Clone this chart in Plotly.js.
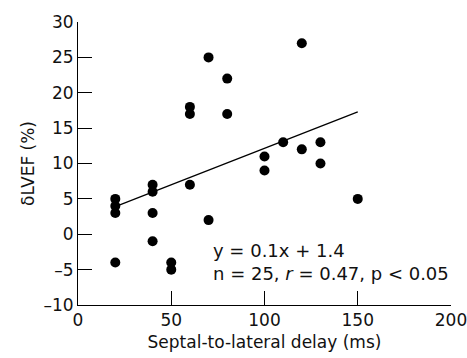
<!DOCTYPE html>
<html>
<head>
<meta charset="utf-8">
<script src="https://cdn.plot.ly/plotly-3.0.1.min.js"></script>
<style>html,body{margin:0;padding:0;background:#fff;}#chart{width:467px;height:358px;}</style>
</head>
<body>
<div id="chart"></div>
<script>
// Septal-to-lateral delay (ms)
const delayMs = [70, 80, 60, 60, 80, 120, 110, 100, 100, 120, 130, 130, 150,
                 20, 20, 20, 20, 40, 40, 40, 40, 60, 70, 50, 50];
// δLVEF (%)
const dLVEF = [25, 22, 18, 17, 17, 27, 13, 11, 9, 12, 13, 10, 5,
               5, 4, 3, -4, 7, 6, 3, -1, 7, 2, -4, -5];
// Regression line as drawn
const fitX = [20, 150];
const fitY = [3.9, 17.3];
const xTicks = [0, 50, 100, 150, 200];
const yTicks = [-10, -5, 0, 5, 10, 15, 20, 25, 30];
const eqLine1 = 'y = 0.1x + 1.4';
const eqLine2 = 'n = 25, <i>r</i> = 0.47, p < 0.05';

const font = {family: '"DejaVu Sans", sans-serif', size: 17, color: '#111'};
const annFont = {family: '"DejaVu Sans", sans-serif', size: 18, color: '#111'};

const traces = [
  {x: fitX, y: fitY, mode: 'lines', line: {color: '#000', width: 1.3}, hoverinfo: 'skip'},
  {x: delayMs, y: dLVEF, mode: 'markers', marker: {color: '#000', size: 10}}
];

const layout = {
  width: 467, height: 358,
  margin: {l: 77.5, r: 15.7, t: 22, b: 53},
  paper_bgcolor: '#fff', plot_bgcolor: '#fff',
  showlegend: false,
  font: font,
  xaxis: {
    range: [0, 200], tickvals: xTicks, ticktext: xTicks.map(String),
    showline: true, linecolor: '#000', linewidth: 1,
    ticks: 'inside', ticklen: 14, tickcolor: '#000', tickwidth: 1,
    showgrid: false, zeroline: false, ticklabeloverflow: 'allow',
    tickfont: font,
    title: {text: 'Septal-to-lateral delay (ms)', font: font, standoff: 6}
  },
  yaxis: {
    range: [-10, 30], tickvals: yTicks, ticktext: yTicks.map(v => v < 0 ? '\u2013' + Math.abs(v) : String(v)),
    showline: true, linecolor: '#000', linewidth: 1,
    ticks: 'inside', ticklen: 14, tickcolor: '#000', tickwidth: 1,
    showgrid: false, zeroline: false, ticklabeloverflow: 'allow',
    tickfont: font,
    title: {text: '\u03b4LVEF (%)', font: font, standoff: 4}
  },
  annotations: [
    {x: 71.5, y: -2.3, xref: 'x', yref: 'y', text: eqLine1, showarrow: false, xanchor: 'left', yanchor: 'middle', font: annFont},
    {x: 71.5, y: -5.6, xref: 'x', yref: 'y', text: eqLine2, showarrow: false, xanchor: 'left', yanchor: 'middle', font: annFont}
  ]
};

Plotly.newPlot('chart', traces, layout, {displayModeBar: false, staticPlot: true});
</script>
</body>
</html>
